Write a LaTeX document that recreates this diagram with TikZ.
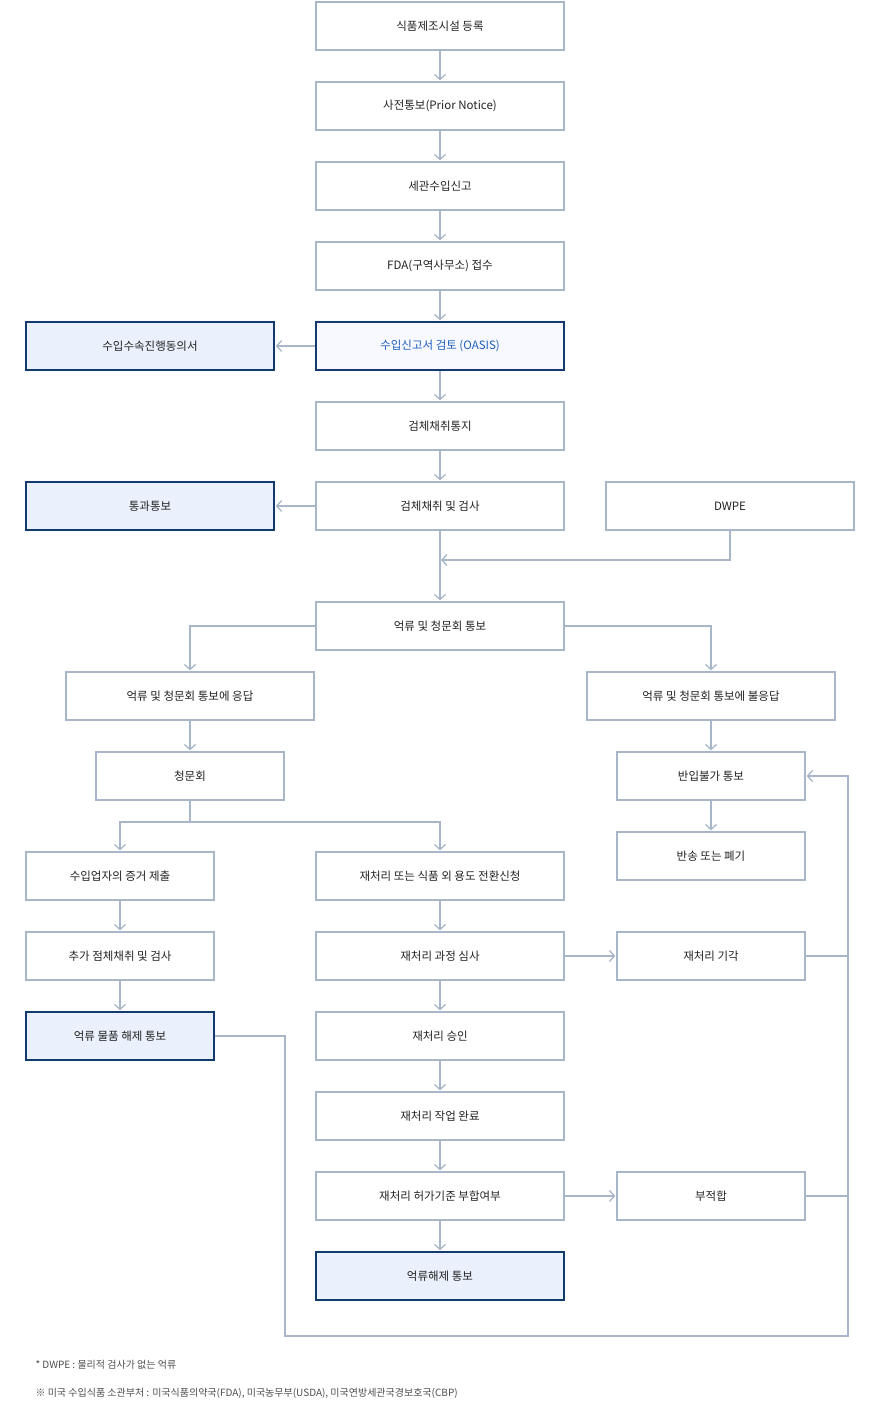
\documentclass[tikz,border=0pt]{standalone}
\usepackage{fontspec}
\setmainfont{Noto Sans CJK KR}
\usetikzlibrary{arrows,arrows.meta,positioning}
\definecolor{lineg}{HTML}{A7B6C9}
\definecolor{navy}{HTML}{123A6E}
\definecolor{paleb}{HTML}{EAF1FC}
\definecolor{txt}{HTML}{222222}
\definecolor{linkb}{HTML}{1F5FBF}
\begin{document}
\begin{tikzpicture}[x=1pt,y=-1pt,font=\fontsize{11.5}{14}\selectfont,
  box/.style={draw=lineg,line width=1.3pt,minimum height=48pt,text=txt,inner sep=0pt},
  wide/.style={box,minimum width=248pt},
  mid/.style={box,minimum width=188pt},
  hot/.style={draw=navy,line width=1.6pt,fill=paleb},
  flow/.style={draw=lineg,line width=1.3pt,shorten >=1pt,-{Straight Barb[length=5pt,width=11pt]}}]
\useasboundingbox (0,0) rectangle (880,1404);

    % main column
	\node [wide] at (440,26) (reg) {식품제조시설 등록};
	\node [wide] at (440,106) (prior) {사전통보(Prior Notice)};
	\node [wide] at (440,186) (cust) {세관수입신고};
	\node [wide] at (440,266) (fda) {FDA(구역사무소) 접수};
	\node [wide,hot,fill=paleb!40,text=linkb] at (440,346) (oasis) {수입신고서 검토 (OASIS)};
	\node [wide,hot] at (150,346) (pledge) {수입수속진행동의서};
	\node [wide] at (440,426) (notice) {검체채취통지};
	\node [wide] at (440,506) (sample) {검체채취 및 검사};
	\node [wide,hot] at (150,506) (pass) {통과통보};
	\node [wide] at (730,506) (dwpe) {DWPE};
	\node [wide] at (440,626) (hold) {억류 및 청문회 통보};

    % branches
	\node [wide] at (190,696) (resp) {억류 및 청문회 통보에 응답};
	\node [wide] at (711,696) (noresp) {억류 및 청문회 통보에 불응답};
	\node [mid] at (190,776) (hear) {청문회};
	\node [mid] at (711,776) (refuse) {반입불가 통보};
	\node [mid] at (711,856) (ret) {반송 또는 폐기};
	\node [mid] at (120,876) (evid) {수입업자의 증거 제출};
	\node [wide] at (440,876) (recon) {재처리 또는 식품 외 용도 전환신청};
	\node [mid] at (120,956) (resamp) {추가 점체채취 및 검사};
	\node [wide] at (440,956) (review) {재처리 과정 심사};
	\node [mid] at (711,956) (reject) {재처리 기각};
	\node [mid,hot] at (120,1036) (release) {억류 물품 해제 통보};
	\node [wide] at (440,1036) (approve) {재처리 승인};
	\node [wide] at (440,1116) (done) {재처리 작업 완료};
	\node [wide] at (440,1196) (check) {재처리 허가기준 부합여부};
	\node [mid] at (711,1196) (fail) {부적합};
	\node [wide,hot] at (440,1276) (free) {억류해제 통보};

	% helper points
	\coordinate (dwM) at (440,560);
	\coordinate (hearM) at (190,822);
	\coordinate (loopR) at (848,776);

	% edges
	\path[flow]
	(reg) edge (prior)
	(prior) edge (cust)
	(cust) edge (fda)
	(fda) edge (oasis)
	(oasis) edge (pledge)
	(oasis) edge (notice)
	(notice) edge (sample)
	(sample) edge (pass)
	(sample) edge (hold)
	(resp) edge (hear)
	(noresp) edge (refuse)
	(refuse) edge (ret)
	(evid) edge (resamp)
	(resamp) edge (release)
	(recon) edge (review)
	(review) edge (reject)
	(review) edge (approve)
	(approve) edge (done)
	(done) edge (check)
	(check) edge (fail)
	(check) edge (free);
	\draw[flow] (dwpe.south) |- (dwM);
	\draw[flow] (hold.west) -| (resp.north);
	\draw[flow] (hold.east) -| (noresp.north);
	\draw[flow] (hear.south) |- (hearM) -| (evid.north);
	\draw[flow] (hearM) -| (recon.north);
	\draw[lineg,line width=1.3pt] (reject.east) -| (loopR);
	\draw[lineg,line width=1.3pt] (fail.east) -| (loopR);
	\draw[flow] (release.east) -- (285,1036) -- (285,1336) -| (loopR) -- (refuse.east);

	% notes
	\node [anchor=west,text=txt!80,font=\fontsize{10}{12}\selectfont] at (32,1365) (n1) {* DWPE : 물리적 검사가 없는 억류};
	\node [anchor=west,text=txt!80,font=\fontsize{10}{12}\selectfont] at (32,1393) (n2) {※ 미국 수입식품 소관부처 : 미국식품의약국(FDA), 미국농무부(USDA), 미국연방세관국경보호국(CBP)};
\end{tikzpicture}
\end{document}
